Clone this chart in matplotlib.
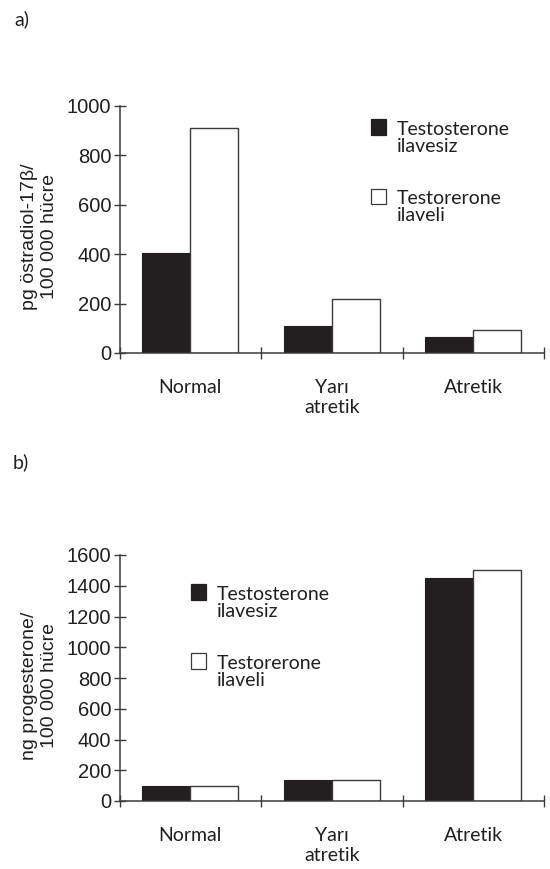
import matplotlib
matplotlib.use("Agg")
import matplotlib.pyplot as plt
from matplotlib.patches import Rectangle
import numpy as np

# ---- data ----
categories = ["Normal", "Yarı\natretik", "Atretik"]
series_names = ["Testosterone\nilavesiz", "Testorerone\nilaveli"]

estradiol_without = [405, 110, 65]
estradiol_with = [910, 218, 94]

progesterone_without = [98, 135, 1450]
progesterone_with = [100, 135, 1500]

ylabel_a = "pg östradiol-17β/\n100 000 hücre"
ylabel_b = "ng progesterone/\n100 000 hücre"
yticks_a = [0, 200, 400, 600, 800, 1000]
yticks_b = [0, 200, 400, 600, 800, 1000, 1200, 1400, 1600]

W, H = 550, 869
fig = plt.figure(figsize=(W / 100, H / 100), dpi=100)

BLACK = "#231f20"
AXC = "#3a3a3a"
TXT = "#231f20"
TICKFONT = ["Liberation Sans", "DejaVu Sans"]
CATFONT = ["Lato", "DejaVu Sans"]


def px_axes(left, top, right, bottom):
    return [left / W, 1 - bottom / H, (right - left) / W, (bottom - top) / H]


def draw_panel(rect, v0, v1, yticks, ylabel, legend_px):
    ax = fig.add_axes(rect)
    x = np.arange(1, len(categories) + 1)
    bw = 0.34
    ax.bar(x - bw / 2, v0, width=bw, color=BLACK, edgecolor=BLACK, linewidth=0.8)
    ax.bar(x + bw / 2, v1, width=bw, color="white", edgecolor=AXC, linewidth=1.0)
    ax.set_xlim(0.5, len(categories) + 0.5)
    ax.set_ylim(0, yticks[-1])
    for s in ["top", "right"]:
        ax.spines[s].set_visible(False)
    for s in ["left", "bottom"]:
        ax.spines[s].set_color(AXC)
        ax.spines[s].set_linewidth(1.1)
    ax.set_yticks(yticks)
    ax.set_yticklabels([str(t) for t in yticks], fontfamily=TICKFONT, fontsize=14.5, color=TXT)
    ax.tick_params(axis="y", direction="inout", length=8, width=1.0, color=AXC, pad=2)
    ax.set_xticks(np.arange(0.5, len(categories) + 1, 1.0))
    ax.set_xticklabels([])
    ax.tick_params(axis="x", which="major", direction="inout", length=9, width=1.0, color=AXC)
    ax.set_xticks(x, minor=True)
    ax.set_xticklabels(categories, minor=True, fontfamily=CATFONT, fontsize=14, color=TXT,
                       linespacing=1.2)
    ax.tick_params(axis="x", which="minor", length=0, pad=19)
    ax.set_ylabel(ylabel, fontfamily=TICKFONT, fontsize=14, color=TXT, linespacing=1.2)
    ax.yaxis.set_label_coords(-0.145, 0.47)

    # legend (pixel positions converted to axes fraction)
    l, t, r, b = legend_px["axes"]
    def fx(px):
        return (px - l) / (r - l)
    def fy(py):
        return (b - py) / (b - t)
    for (sq_x, sq_top, base1, base2), name, fc in zip(
            legend_px["entries"], series_names, [BLACK, "white"]):
        ax.add_patch(Rectangle((fx(sq_x), fy(sq_top + 15.5)), fx(sq_x + 15.3) - fx(sq_x),
                               fy(sq_top) - fy(sq_top + 15.5), transform=ax.transAxes,
                               facecolor=fc, edgecolor=AXC if fc == "white" else BLACK,
                               linewidth=0.9, clip_on=False))
        l1, l2 = name.split("\n")
        ax.text(fx(sq_x + 26), fy(base1), l1, transform=ax.transAxes, fontfamily=CATFONT,
                fontsize=14, color=TXT, va="baseline", ha="left")
        ax.text(fx(sq_x + 26), fy(base2), l2, transform=ax.transAxes, fontfamily=CATFONT,
                fontsize=14, color=TXT, va="baseline", ha="left")
    return ax


axA_px = (119.5, 105.7, 544, 353)
axB_px = (119.5, 555, 544, 801)

draw_panel(px_axes(*axA_px), estradiol_without, estradiol_with, yticks_a, ylabel_a,
           {"axes": axA_px,
            "entries": [(370.7, 119, 135, 151.7), (370.7, 188.5, 204.3, 221)]})
draw_panel(px_axes(*axB_px), progesterone_without, progesterone_with, yticks_b, ylabel_b,
           {"axes": axB_px,
            "entries": [(190.7, 584, 600, 616.7), (190.7, 653, 669.3, 686)]})

fig.text(14 / W, 1 - 25 / H, "a)", fontfamily=CATFONT, fontsize=14, color=TXT, va="baseline")
fig.text(13 / W, 1 - 468 / H, "b)", fontfamily=CATFONT, fontsize=14, color=TXT, va="baseline")

fig.savefig("out.png", dpi=100, facecolor="white")
